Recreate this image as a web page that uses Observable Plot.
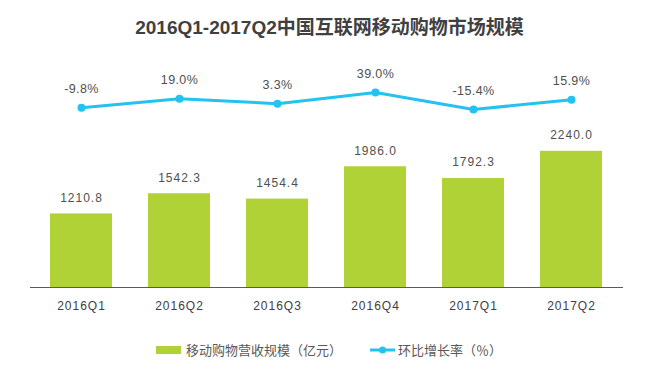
<!DOCTYPE html>
<html>
<head>
<meta charset="utf-8">
<script src="https://cdn.jsdelivr.net/npm/d3@7"></script>
<script src="https://cdn.jsdelivr.net/npm/@observablehq/plot@0.6"></script>
<style>
  body { margin: 0; background: #fff; }
  #wrap { position: relative; width: 659px; height: 373px; overflow: hidden;
          font-family: "Liberation Sans", Arial, "Noto Sans CJK SC", sans-serif; }
  #title { position: absolute; left: 0; width: 659px; top: 12px; text-align: center;
           font-size: 19px; font-weight: bold; color: #404040;
           font-family: "Liberation Sans", Arial, "Noto Sans CJK SC", sans-serif; }
  .layer { position: absolute; left: 0; top: 0; }
  #bars svg text { letter-spacing: 1px; }
  #line svg text { letter-spacing: 0.4px; }
  #legend { position: absolute; top: 341px; left: 0; width: 659px; height: 20px;
            font-size: 13px; color: #595959;
            font-family: "Noto Sans CJK SC", "Liberation Sans", sans-serif; }
  .lg { position: absolute; top: 0; line-height: 18px; white-space: nowrap; }
</style>
</head>
<body>
<div id="wrap">
  <div id="title">2016Q1-2017Q2中国互联网移动购物市场规模</div>
  <div id="bars" class="layer"></div>
  <div id="line" class="layer"></div>
  <div id="legend">
    <div class="lg" style="left:156px;"><span style="display:inline-block;width:25px;height:8px;background:#b0d236;vertical-align:middle;margin-right:5px;position:relative;top:-1px;"></span>移动购物营收规模（亿元）</div>
    <div class="lg" style="left:370px;"><svg width="25" height="10" style="vertical-align:middle;margin-right:3px;position:relative;top:-1px;"><line x1="0" y1="5" x2="25" y2="5" stroke="#23c2f0" stroke-width="3"/><circle cx="12.5" cy="5" r="3.5" fill="#23c2f0"/></svg>环比增长率（％）</div>
  </div>
</div>
<script>
const quarters = ["2016Q1", "2016Q2", "2016Q3", "2016Q4", "2017Q1", "2017Q2"];
const revenue = [1210.8, 1542.3, 1454.4, 1986.0, 1792.3, 2240.0];
const growth = [-9.8, 19.0, 3.3, 39.0, -15.4, 15.9];

const rows = quarters.map((q, i) => ({ q, revenue: revenue[i], growth: growth[i] }));
const GREEN = "#b0d236";
const BLUE = "#23c2f0";
const xOpts = { domain: quarters, range: [29.6, 622.4], paddingInner: 0.372, paddingOuter: 0.186 };

const bars = Plot.plot({
  width: 659, height: 320,
  marginLeft: 30, marginRight: 36, marginTop: 135, marginBottom: 33,
  style: { fontFamily: "'Liberation Sans', Arial, sans-serif", fontSize: "12px", color: "#404040", background: "transparent" },
  x: { ...xOpts, type: "band", label: null },
  y: { domain: [0, 2500], axis: null },
  marks: [
    Plot.barY(rows, { x: "q", y: "revenue", fill: GREEN }),
    Plot.ruleY([0], { stroke: "#595959", strokeWidth: 1.2 }),
    Plot.text(rows, { x: "q", y: "revenue", text: d => d.revenue.toFixed(1), dy: -16, fill: "#505050", fontSize: 12 }),
    Plot.axisX({ tickSize: 0, tickPadding: 14, fill: "#404040", fontSize: 12 })
  ]
});
document.getElementById("bars").appendChild(bars);

const line = Plot.plot({
  width: 659, height: 130,
  marginLeft: 30, marginRight: 36, marginTop: 0, marginBottom: 0,
  style: { fontFamily: "'Liberation Sans', Arial, sans-serif", fontSize: "12px", background: "transparent" },
  x: { ...xOpts, type: "band", axis: null },
  y: { domain: [-20, 40], range: [110.45, 91.7], axis: null },
  marks: [
    Plot.line(rows, { x: "q", y: "growth", stroke: BLUE, strokeWidth: 3 }),
    Plot.dot(rows, { x: "q", y: "growth", r: 4, fill: BLUE }),
    Plot.text(rows, { x: "q", y: "growth", text: d => d.growth.toFixed(1) + "%", dy: -19, fill: "#505050", fontSize: 12.5 })
  ]
});
document.getElementById("line").appendChild(line);
</script>
</body>
</html>
